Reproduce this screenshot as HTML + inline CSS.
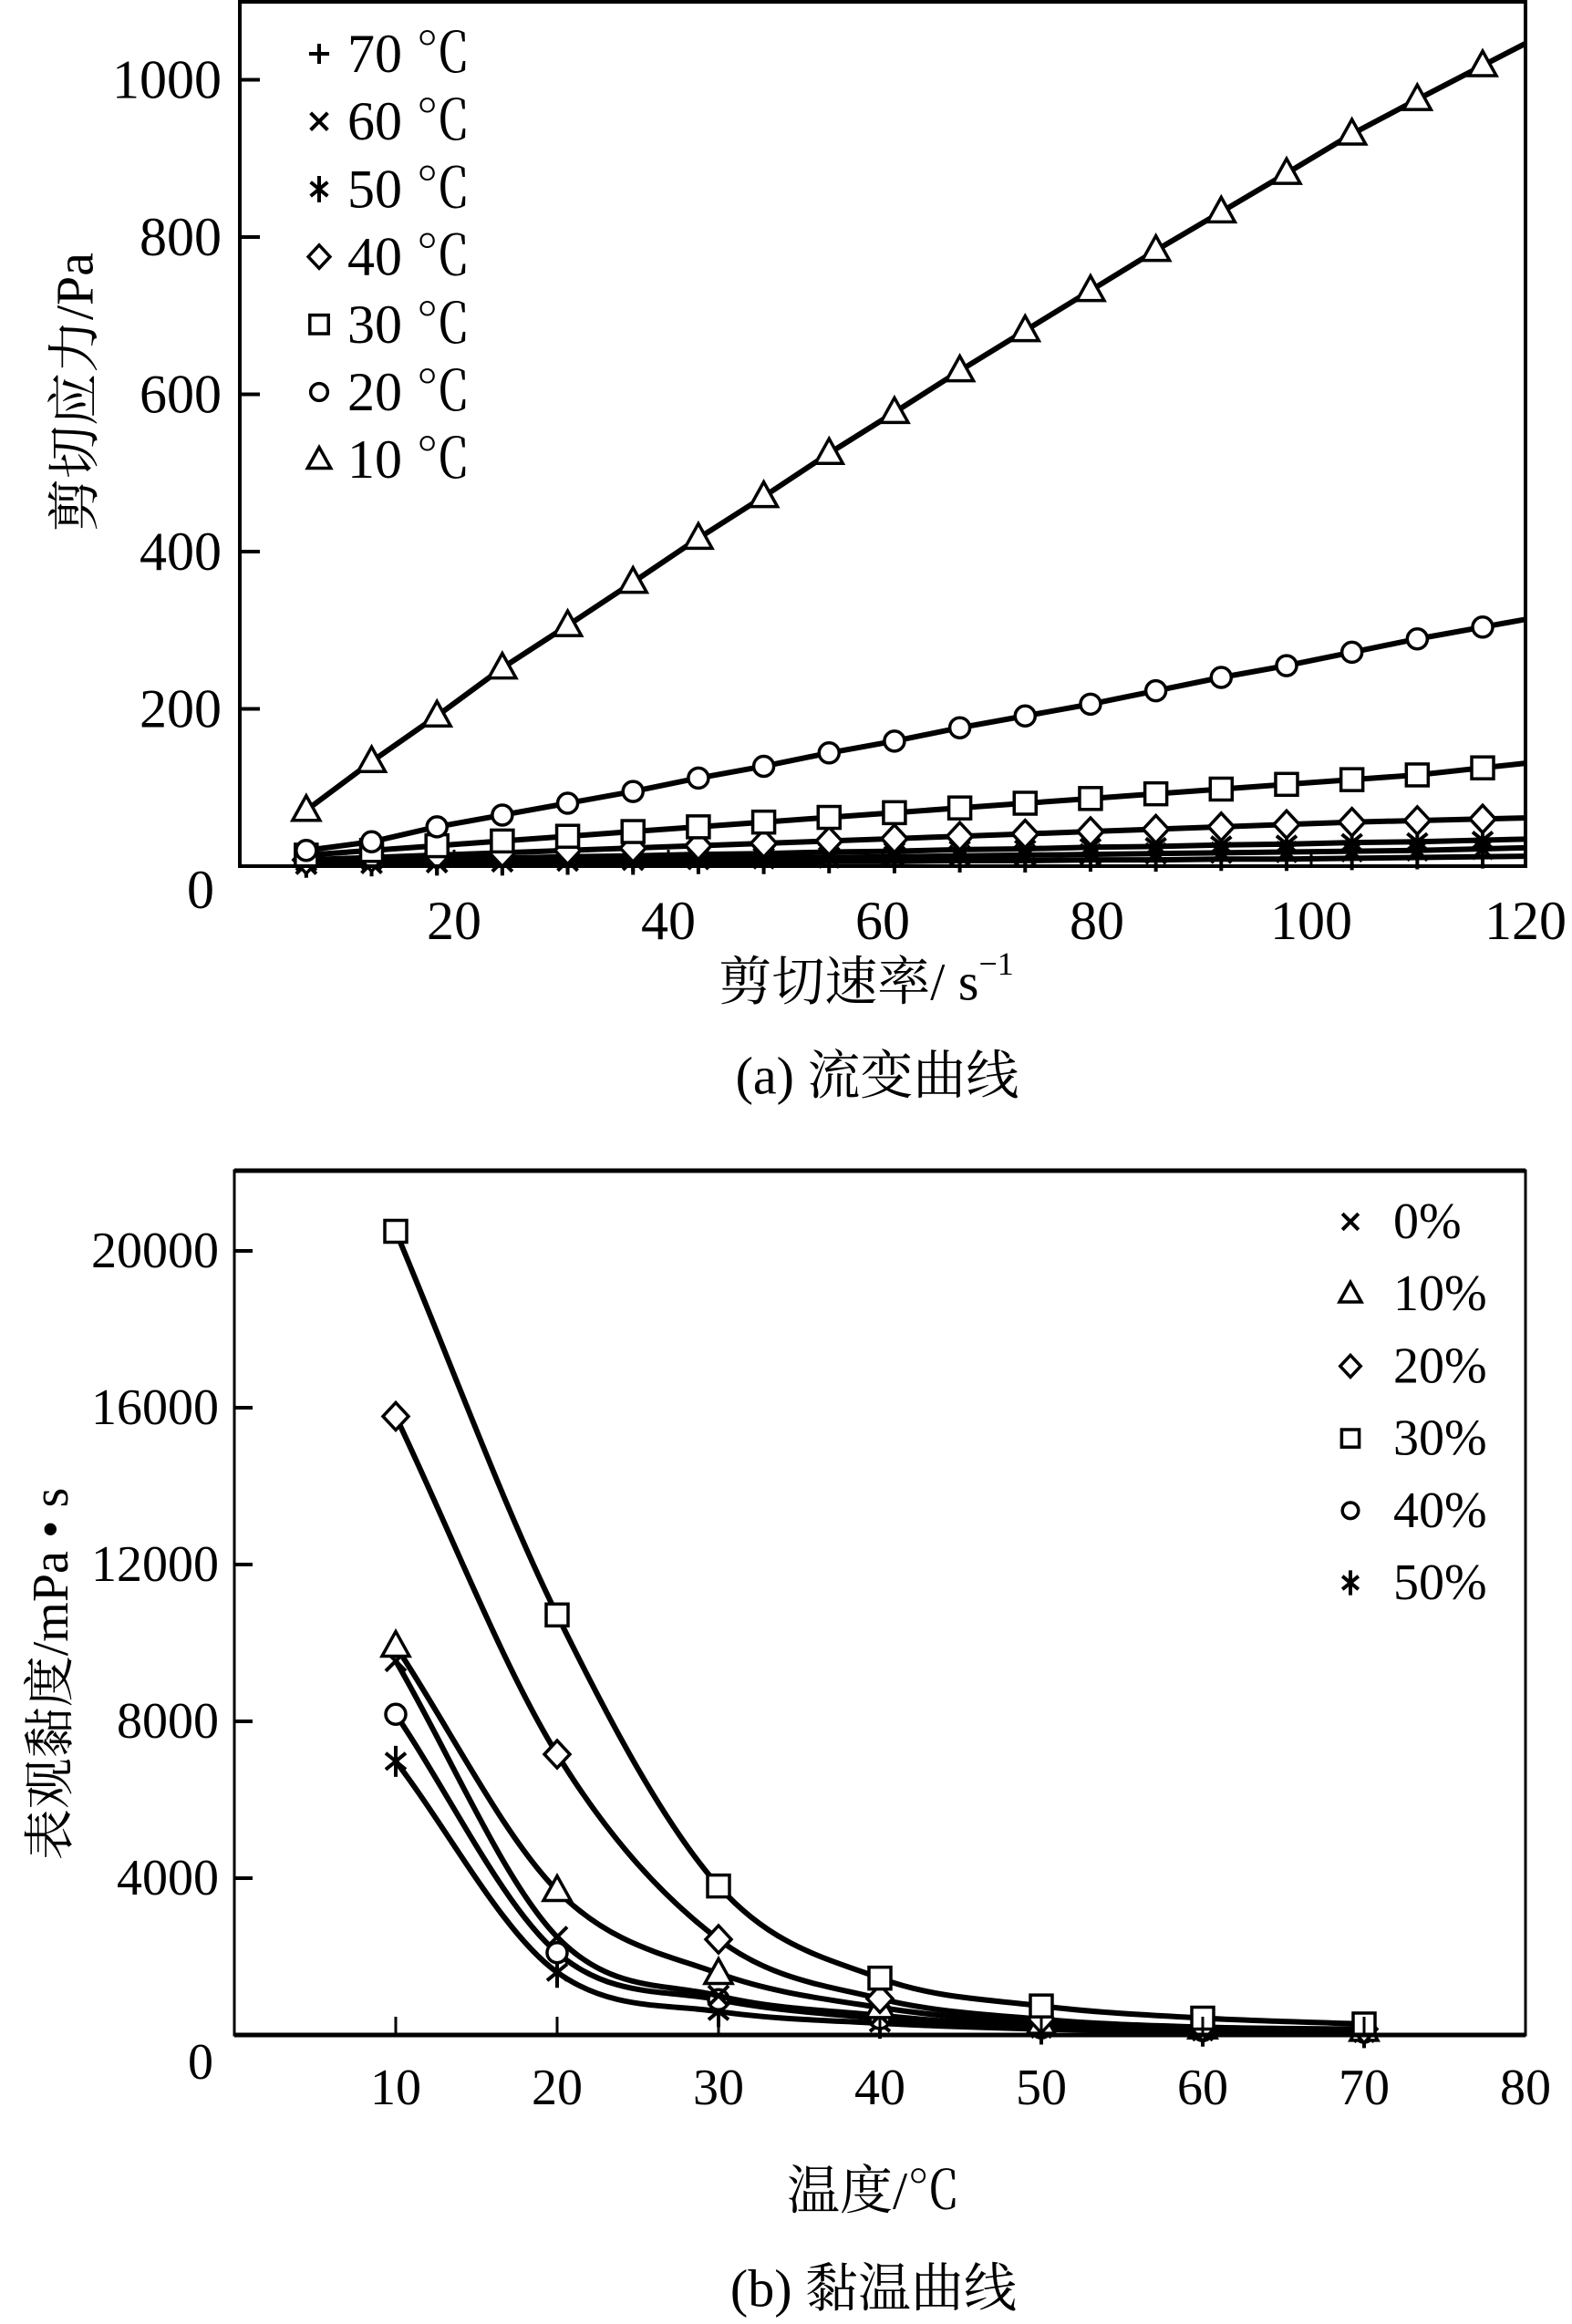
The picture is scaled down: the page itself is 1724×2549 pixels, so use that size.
<!DOCTYPE html>
<html><head><meta charset="utf-8">
<style>
html,body{margin:0;padding:0;background:#fff;}
svg{display:block;}
text{font-family:"Liberation Serif","Times New Roman","Noto Serif CJK SC","Noto Sans CJK SC",serif;fill:#000;}
</style></head>
<body>
<svg id="fig" width="1724" height="2549" viewBox="0 0 1724 2549" xmlns="http://www.w3.org/2000/svg"></svg>
<script>
// ===== Chart (a) data =====
const shearRates = [6.2,12.3,18.4,24.5,30.6,36.7,42.8,48.9,55,61.1,67.2,73.3,79.4,85.5,91.6,97.7,103.8,109.9,116];
const stress10 = [71,133,191,252,306,361,417,470,525,577,630,681,732,783,832,881,931,975,1018];
const stress20 = [20,31,50,65,80,95,112,127,144,159,176,191,206,223,240,255,272,289,304];
const stress30 = [14,20,26,32,38,44,50,56,62,68,74,80,86,92,98,104,110,116,125];
const stress40 = [8,11,14,17,20,23,26,29,32,35,38,41,44,47,50,53,56,58,60];
const stress50 = [5,7,9,10,12,13,15,16,18,19,21,22,24,25,27,28,30,31,33];
const stress60 = [3,4,5,6,7,8,9,10,11,12,13,14,15,16,17,18,19,20,22];
const stress70 = [2,2,3,3,4,4,5,5,6,6,7,7,8,8,9,9,10,11,12];
const aXTicks = [20,40,60,80,100,120];
const aYTicks = [0,200,400,600,800,1000];
const aLegend = ["70 ℃","60 ℃","50 ℃","40 ℃","30 ℃","20 ℃","10 ℃"];

// ===== Chart (b) data =====
const temps = [10,20,30,40,50,60,70];
const visc0 = [9540,2500,1000,500,200,120,80];
const visc10 = [9920,3685,1570,700,300,180,120];
const visc20 = [15780,7160,2440,925,400,200,150];
const visc30 = [20500,10714,3800,1450,740,430,280];
const visc40 = [8180,2100,900,420,180,110,70];
const visc50 = [6980,1600,600,300,150,100,60];
const bXTicks = [10,20,30,40,50,60,70,80];
const bYTicks = [4000,8000,12000,16000,20000];
const bLegend = ["0%","10%","20%","30%","40%","50%"];

const svg = document.getElementById('fig');
const NS = 'http://www.w3.org/2000/svg';
function mk(tag, attrs, parent){
  const e = document.createElementNS(NS, tag);
  for (const k in attrs) e.setAttribute(k, attrs[k]);
  (parent||svg).appendChild(e);
  return e;
}
function txt(s, x, y, size, anchor, parent){
  const t = mk('text', {x:x, y:y, 'font-size':size, 'text-anchor':anchor||'middle', 'dominant-baseline':'central'}, parent);
  t.textContent = s;
  return t;
}
function marker(type, x, y, g, s){
  s = s||1;
  const st = {fill:'#fff', stroke:'#000', 'stroke-width':3.5};
  let e;
  if (type==='tri') e = mk('polygon', Object.assign({points:`${x},${y-16*s} ${x-15*s},${y+11*s} ${x+15*s},${y+11*s}`}, st), g);
  else if (type==='circ') e = mk('circle', Object.assign({cx:x, cy:y, r:11*s}, st), g);
  else if (type==='sq') e = mk('rect', Object.assign({x:x-12*s, y:y-12*s, width:24*s, height:24*s}, st), g);
  else if (type==='dia') e = mk('polygon', Object.assign({points:`${x},${y-15*s} ${x+14*s},${y} ${x},${y+15*s} ${x-14*s},${y}`}, st), g);
  else if (type==='star') e = mk('path', {d:`M${x},${y-17*s}V${y+17*s}M${x-11*s},${y-9*s}L${x+11*s},${y+9*s}M${x+11*s},${y-9*s}L${x-11*s},${y+9*s}`, stroke:'#000', 'stroke-width':4, fill:'none'}, g);
  else if (type==='x') e = mk('path', {d:`M${x-11*s},${y-11*s}L${x+11*s},${y+11*s}M${x+11*s},${y-11*s}L${x-11*s},${y+11*s}`, stroke:'#000', 'stroke-width':4, fill:'none'}, g);
  else if (type==='plus') e = mk('path', {d:`M${x-13*s},${y}H${x+13*s}M${x},${y-13*s}V${y+13*s}`, stroke:'#000', 'stroke-width':4, fill:'none'}, g);
  
  
  return e;
}

// ---------- Chart (a) ----------
const aL=263, aR=1673, aT=2, aB=950;
function ax(v){ return aL + (v-0)*(aR-aL)/120; }
function ay(v){ return aB - v*(172.5/200); }
const gA = mk('g', {});


const aSeries = [
  {d:stress70, m:'plus', n:'series-70c'},
  {d:stress60, m:'x', n:'series-60c'},
  {d:stress50, m:'star', n:'series-50c'},
  {d:stress40, m:'dia', n:'series-40c'},
  {d:stress30, m:'sq', n:'series-30c'},
  {d:stress20, m:'circ', n:'series-20c'},
  {d:stress10, m:'tri', n:'series-10c'}
];
aSeries.forEach(s=>{
  const g = mk('g', {}, gA);
  
  
  const n = s.d.length;
  const slope = (s.d[n-1]-s.d[n-2])/(shearRates[n-1]-shearRates[n-2]);
  const endV = s.d[n-1] + slope*(120-shearRates[n-1]);
  let pts = shearRates.map((x,i)=>`${ax(x)},${ay(s.d[i])}`);
  pts.push(`${ax(120)},${ay(endV)}`);
  const pl = mk('polyline', {points:pts.join(' '), fill:'none', stroke:'#000', 'stroke-width':6}, g);
  
  
  shearRates.forEach((x,i)=>marker(s.m, ax(x), ay(s.d[i]), g));
});
const fA = mk('rect', {x:aL, y:aT, width:aR-aL, height:aB-aT, fill:'none', stroke:'#000', 'stroke-width':4}, gA);


aYTicks.forEach(v=>{
  if (v>0) mk('line', {x1:aL, x2:aL+22, y1:ay(v), y2:ay(v), stroke:'#000', 'stroke-width':4}, gA);
  const t = txt(String(v), v===0?220:243, v===0?976:ay(v), 60, v===0?'middle':'end', gA);
  
  
});
aXTicks.forEach(v=>{
  mk('line', {x1:ax(v), x2:ax(v), y1:aB, y2:aB-18, stroke:'#000', 'stroke-width':3}, gA);
  const t = txt(String(v), ax(v), 1010, 60, 'middle', gA);
  
  
});
const aLegMarks = ['plus','x','star','dia','sq','circ','tri'];
const gLA = mk('g', {}, gA);


aLegend.forEach((s,i)=>{
  const y = 59 + i*74.2;
  marker(aLegMarks[i], 350, y, gLA, 0.85);
  const t = txt(s, 381, y, 60, 'start', gLA);
  
  
});
const yTitleA = txt('剪切应力/Pa', 0, 0, 58, 'middle', gA);
yTitleA.setAttribute('transform', 'translate(82,430) rotate(-90)');


const xTitleA = mk('text', {x:950, y:1077, 'font-size':58, 'text-anchor':'middle', 'dominant-baseline':'central'}, gA);
xTitleA.innerHTML = '剪切速率/ s<tspan font-size="36" dy="-20">−1</tspan>';


const capA = txt('(a) 流变曲线', 962, 1180, 58, 'middle', gA);



// ---------- Chart (b) ----------
const bL=257, bR=1673, bT=1284, bB=2232;
function bx(v){ return bL + v*(bR-bL)/80; }
function by(v){ return bB - v*(172/4000); }
function monotonePath(xs, ys){
  const n = xs.length, d=[], m=[];
  for (let i=0;i<n-1;i++) d.push((ys[i+1]-ys[i])/(xs[i+1]-xs[i]));
  m[0]=d[0]; m[n-1]=d[n-2];
  for (let i=1;i<n-1;i++){ m[i] = (d[i-1]*d[i]<=0)?0:(d[i-1]+d[i])/2; }
  for (let i=0;i<n-1;i++){
    if (d[i]===0){m[i]=0;m[i+1]=0;continue;}
    const a=m[i]/d[i], b=m[i+1]/d[i], h=a*a+b*b;
    if (h>9){const t=3/Math.sqrt(h); m[i]=t*a*d[i]; m[i+1]=t*b*d[i];}
  }
  let p = `M${xs[0]},${ys[0]}`;
  for (let i=0;i<n-1;i++){
    const h=(xs[i+1]-xs[i])/3;
    p += ` C${xs[i]+h},${ys[i]+m[i]*h} ${xs[i+1]-h},${ys[i+1]-m[i+1]*h} ${xs[i+1]},${ys[i+1]}`;
  }
  return p;
}
const gB = mk('g', {});


const bSeries = [
  {d:visc50, m:'star', n:'series-50pct'},
  {d:visc40, m:'circ', n:'series-40pct'},
  {d:visc0, m:'x', n:'series-0pct'},
  {d:visc10, m:'tri', n:'series-10pct'},
  {d:visc20, m:'dia', n:'series-20pct'},
  {d:visc30, m:'sq', n:'series-30pct'}
];
bSeries.forEach(s=>{
  const g = mk('g', {}, gB);
  
  
  const xs = temps.map(bx), ys = s.d.map(by);
  const p = mk('path', {d:monotonePath(xs, ys), fill:'none', stroke:'#000', 'stroke-width':6}, g);
  
  
  temps.forEach((t,i)=>marker(s.m, bx(t), by(s.d[i]), g));
});
const fB = mk('rect', {x:bL, y:bT, width:bR-bL, height:bB-bT, fill:'none', stroke:'#000', 'stroke-width':3}, gB);


mk('line', {x1:bL, x2:bR, y1:bT, y2:bT, stroke:'#000', 'stroke-width':5}, gB);
mk('line', {x1:bL, x2:bR, y1:bB, y2:bB, stroke:'#000', 'stroke-width':5}, gB);
bYTicks.forEach(v=>{
  mk('line', {x1:bL, x2:bL+20, y1:by(v), y2:by(v), stroke:'#000', 'stroke-width':4}, gB);
  const t = txt(String(v), 240, by(v), 56, 'end', gB);
  
  
});
const z = txt('0', 220, 2262, 56, 'middle', gB);


bXTicks.forEach(v=>{
  if (v<80) mk('line', {x1:bx(v), x2:bx(v), y1:bB, y2:bB-20, stroke:'#000', 'stroke-width':3}, gB);
  const t = txt(String(v), bx(v), 2290, 56, 'middle', gB);
  
  
});
const bLegMarks = ['x','tri','dia','sq','circ','star'];
const gLB = mk('g', {}, gB);


bLegend.forEach((s,i)=>{
  const y = 1340 + i*79.2;
  marker(bLegMarks[i], 1481, y, gLB, 0.8);
  const t = txt(s, 1528, y, 56, 'start', gLB);
  
  
});
const yTitleB = txt('表观黏度/mPa • s', 0, 0, 56, 'middle', gB);
yTitleB.setAttribute('transform', 'translate(56,1836) rotate(-90)');


const xTitleB = txt('温度/℃', 958, 2403, 58, 'middle', gB);


const capB = txt('(b) 黏温曲线', 958, 2510, 58, 'middle', gB);


</script>
</body></html>
